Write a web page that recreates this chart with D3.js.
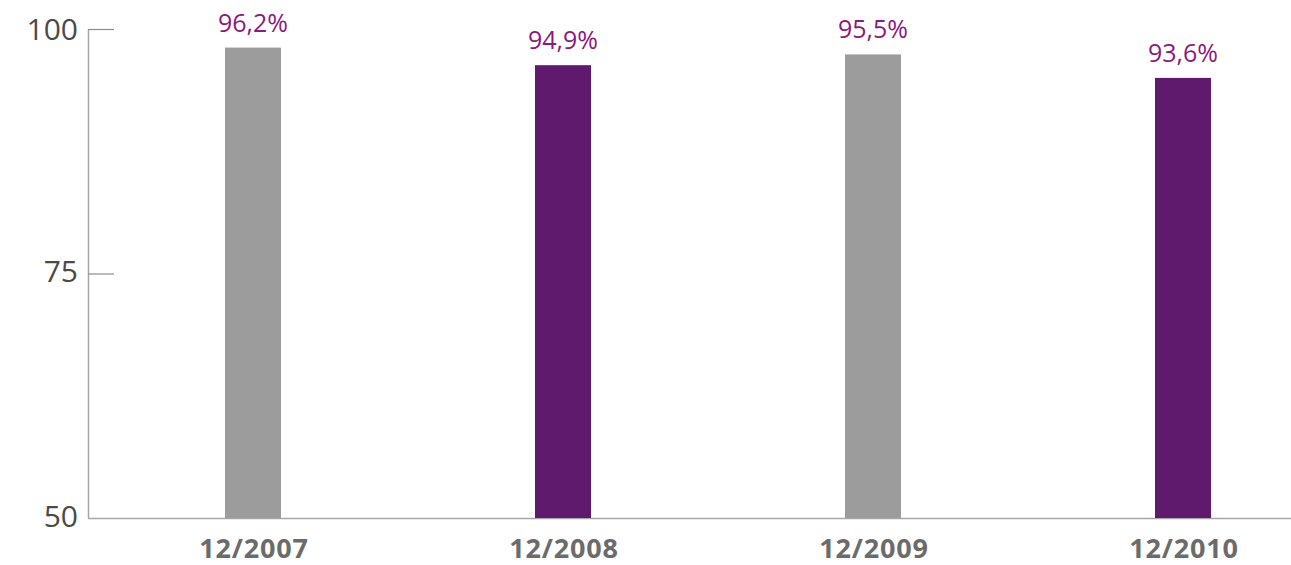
<!DOCTYPE html>
<html><head><meta charset="utf-8">
<script src="https://cdn.jsdelivr.net/npm/d3@7"></script>
<style>body{margin:0;background:#fff}svg{display:block}</style>
</head><body>
<svg id="c" width="1291" height="565"></svg>
<script>
const categories = ["12/2007", "12/2008", "12/2009", "12/2010"];
const barValues = [98.1, 96.3, 97.4, 95.0];
const valueLabels = ["96,2%", "94,9%", "95,5%", "93,6%"];
const barColors = ["#9c9c9d", "#5f1a6e", "#9c9c9d", "#5f1a6e"];
const yTicks = [50, 75, 100];

const svg = d3.select("#c");
const y = d3.scaleLinear().domain([50, 100]).range([518, 29]);
const x = d3.scalePoint().domain(categories).range([253, 1183]);
const bw = 56;

svg.append("line").attr("x1", 88.5).attr("x2", 88.5).attr("y1", y(100)).attr("y2", y(50))
  .attr("stroke", "#a6a6a6").attr("stroke-width", 1.5);
svg.append("line").attr("x1", 88).attr("x2", 1291).attr("y1", y(50) + 0.5).attr("y2", y(50) + 0.5)
  .attr("stroke", "#a6a6a6").attr("stroke-width", 1.5);

const yAxis = svg.append("g");
yAxis.selectAll("line").data(yTicks.filter(d => d > 50)).join("line")
  .attr("x1", 88).attr("x2", 114).attr("y1", d => y(d) + 0.5).attr("y2", d => y(d) + 0.5)
  .attr("stroke", "#8c8c8c").attr("stroke-width", 1.2);
yAxis.selectAll("text").data(yTicks).join("text")
  .attr("x", 78).attr("y", d => y(d) + 11 - (d === 75 ? 3 : 0) - (d === 50 ? 2 : 0))
  .attr("text-anchor", "end")
  .attr("font-family", "Open Sans, sans-serif").attr("font-size", 30)
  .attr("fill", "#4a4a4a").text(d => d);

const data = categories.map((c, i) => ({c, v: barValues[i], l: valueLabels[i], col: barColors[i]}));

svg.selectAll("rect.bar").data(data).join("rect").attr("class", "bar")
  .attr("x", d => x(d.c) - bw / 2).attr("width", bw)
  .attr("y", d => y(d.v)).attr("height", d => y(50) - y(d.v))
  .attr("fill", d => d.col);

svg.selectAll("text.vl").data(data).join("text").attr("class", "vl")
  .attr("x", d => x(d.c)).attr("y", d => y(d.v) - 16)
  .attr("text-anchor", "middle")
  .attr("font-family", "Open Sans, sans-serif").attr("font-size", 25)
  .attr("fill", "#8a1a7e").text(d => d.l);

svg.selectAll("text.xl").data(data).join("text").attr("class", "xl")
  .attr("x", d => x(d.c) + 1).attr("y", 558)
  .attr("text-anchor", "middle")
  .attr("font-family", "Open Sans, sans-serif").attr("font-weight", "bold").attr("font-size", 27)
  .attr("letter-spacing", 0.8)
  .attr("fill", "#6b6b6b").text(d => d.c);
</script>
</body></html>
